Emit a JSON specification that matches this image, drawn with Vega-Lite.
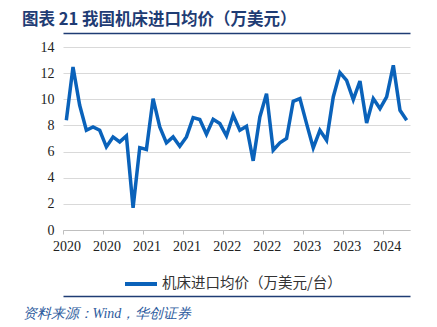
{
  "$schema": "https://vega.github.io/schema/vega-lite/v6.json",
  "width": 347,
  "height": 183,
  "autosize": {"type": "none"},
  "padding": {"left": 63, "top": 47, "right": 27, "bottom": 97},
  "background": "white",
  "title": {
    "text": "图表 21  我国机床进口均价（万美元）",
    "anchor": "start",
    "frame": "group",
    "dx": -41,
    "offset": 5,
    "font": "Noto Sans CJK SC",
    "fontSize": 16.5,
    "fontWeight": "bold",
    "color": "#1F3C74"
  },
  "config": {"view": {"stroke": null}},
  "data": {
    "values": [
      {"i": 1, "v": 8.4, "s": "机床进口均价（万美元/台）"},
      {"i": 2, "v": 12.47, "s": "机床进口均价（万美元/台）"},
      {"i": 3, "v": 9.54, "s": "机床进口均价（万美元/台）"},
      {"i": 4, "v": 7.63, "s": "机床进口均价（万美元/台）"},
      {"i": 5, "v": 7.89, "s": "机床进口均价（万美元/台）"},
      {"i": 6, "v": 7.63, "s": "机床进口均价（万美元/台）"},
      {"i": 7, "v": 6.36, "s": "机床进口均价（万美元/台）"},
      {"i": 8, "v": 7.12, "s": "机床进口均价（万美元/台）"},
      {"i": 9, "v": 6.74, "s": "机床进口均价（万美元/台）"},
      {"i": 10, "v": 7.2, "s": "机床进口均价（万美元/台）"},
      {"i": 11, "v": 1.7, "s": "机床进口均价（万美元/台）"},
      {"i": 12, "v": 6.3, "s": "机床进口均价（万美元/台）"},
      {"i": 13, "v": 6.16, "s": "机床进口均价（万美元/台）"},
      {"i": 14, "v": 10.05, "s": "机床进口均价（万美元/台）"},
      {"i": 15, "v": 7.89, "s": "机床进口均价（万美元/台）"},
      {"i": 16, "v": 6.67, "s": "机床进口均价（万美元/台）"},
      {"i": 17, "v": 7.12, "s": "机床进口均价（万美元/台）"},
      {"i": 18, "v": 6.41, "s": "机床进口均价（万美元/台）"},
      {"i": 19, "v": 7.12, "s": "机床进口均价（万美元/台）"},
      {"i": 20, "v": 8.6, "s": "机床进口均价（万美元/台）"},
      {"i": 21, "v": 8.45, "s": "机床进口均价（万美元/台）"},
      {"i": 22, "v": 7.33, "s": "机床进口均价（万美元/台）"},
      {"i": 23, "v": 8.47, "s": "机床进口均价（万美元/台）"},
      {"i": 24, "v": 8.14, "s": "机床进口均价（万美元/台）"},
      {"i": 25, "v": 7.2, "s": "机床进口均价（万美元/台）"},
      {"i": 26, "v": 8.78, "s": "机床进口均价（万美元/台）"},
      {"i": 27, "v": 7.63, "s": "机床进口均价（万美元/台）"},
      {"i": 28, "v": 7.94, "s": "机床进口均价（万美元/台）"},
      {"i": 29, "v": 5.29, "s": "机床进口均价（万美元/台）"},
      {"i": 30, "v": 8.65, "s": "机床进口均价（万美元/台）"},
      {"i": 31, "v": 10.43, "s": "机床进口均价（万美元/台）"},
      {"i": 32, "v": 6.1, "s": "机床进口均价（万美元/台）"},
      {"i": 33, "v": 6.67, "s": "机床进口均价（万美元/台）"},
      {"i": 34, "v": 7.0, "s": "机床进口均价（万美元/台）"},
      {"i": 35, "v": 9.85, "s": "机床进口均价（万美元/台）"},
      {"i": 36, "v": 10.05, "s": "机床进口均价（万美元/台）"},
      {"i": 37, "v": 8.14, "s": "机床进口均价（万美元/台）"},
      {"i": 38, "v": 6.28, "s": "机床进口均价（万美元/台）"},
      {"i": 39, "v": 7.63, "s": "机床进口均价（万美元/台）"},
      {"i": 40, "v": 6.87, "s": "机床进口均价（万美元/台）"},
      {"i": 41, "v": 10.18, "s": "机床进口均价（万美元/台）"},
      {"i": 42, "v": 12.04, "s": "机床进口均价（万美元/台）"},
      {"i": 43, "v": 11.45, "s": "机床进口均价（万美元/台）"},
      {"i": 44, "v": 9.97, "s": "机床进口均价（万美元/台）"},
      {"i": 45, "v": 11.4, "s": "机床进口均价（万美元/台）"},
      {"i": 46, "v": 8.19, "s": "机床进口均价（万美元/台）"},
      {"i": 47, "v": 10.05, "s": "机床进口均价（万美元/台）"},
      {"i": 48, "v": 9.29, "s": "机床进口均价（万美元/台）"},
      {"i": 49, "v": 10.18, "s": "机床进口均价（万美元/台）"},
      {"i": 50, "v": 12.6, "s": "机床进口均价（万美元/台）"},
      {"i": 51, "v": 9.16, "s": "机床进口均价（万美元/台）"},
      {"i": 52, "v": 8.4, "s": "机床进口均价（万美元/台）"}
    ]
  },
  "encoding": {
    "y": {
      "field": "v",
      "type": "quantitative",
      "scale": {"domain": [0, 14], "nice": false},
      "axis": {
        "values": [0, 2, 4, 6, 8, 10, 12, 14],
        "title": null,
        "domain": false,
        "ticks": false,
        "gridColor": "#d9d9d9",
        "gridWidth": 1,
        "labelFont": "Liberation Serif",
        "labelFontSize": 14,
        "labelColor": "#222222",
        "labelPadding": 9
      }
    }
  },
  "layer": [
    {
      "mark": {"type": "line", "strokeWidth": 3.5},
      "encoding": {
        "x": {
          "field": "i",
          "type": "quantitative",
          "scale": {"domain": [0.5, 52.5], "nice": false, "zero": false},
          "axis": {
            "values": [0.5, 6.5, 12.5, 18.5, 24.5, 30.5, 36.5, 42.5, 48.5],
            "labelExpr": "'' + (2020 + floor((datum.value - 0.5) / 12))",
            "grid": false,
            "title": null,
            "domainColor": "#bfbfbf",
            "tickColor": "#bfbfbf",
            "tickSize": 4,
            "labelFont": "Liberation Serif",
            "labelFontSize": 14,
            "labelColor": "#222222",
            "labelPadding": 5,
            "labelOffset": 3.5,
            "labelFlush": false,
            "labelOverlap": false
          }
        },
        "color": {
          "field": "s",
          "type": "nominal",
          "scale": {"range": ["#0A62BA"]},
          "legend": {
            "orient": "none",
            "legendX": 60,
            "legendY": 219,
            "title": null,
            "symbolType": "stroke",
            "symbolSize": 1024,
            "symbolStrokeWidth": 4,
            "labelFont": "Noto Sans CJK SC",
            "labelFontSize": 14.5,
            "labelColor": "#333333",
            "labelOffset": 3,
            "labelLimit": 0
          }
        }
      }
    },
    {
      "mark": {"type": "line", "opacity": 0},
      "encoding": {
        "x": {
          "field": "i",
          "type": "quantitative",
          "axis": {
            "orient": "top",
            "offset": 14,
            "domainColor": "#1F3C74",
            "domainWidth": 1.5,
            "ticks": false,
            "labels": false,
            "grid": false,
            "title": null
          }
        }
      }
    },
    {
      "mark": {"type": "line", "opacity": 0},
      "encoding": {
        "x": {
          "field": "i",
          "type": "quantitative",
          "axis": {
            "orient": "bottom",
            "offset": 66,
            "domainColor": "#1F3C74",
            "domainWidth": 1.5,
            "ticks": false,
            "labels": false,
            "grid": false,
            "title": "资料来源：Wind，华创证券",
            "titleAnchor": "start",
            "titleAlign": "left",
            "titleX": -41,
            "titleY": 21,
            "titleBaseline": "alphabetic",
            "titleFont": "Liberation Serif",
            "titleFontStyle": "italic",
            "titleFontWeight": "normal",
            "titleFontSize": 14,
            "titleColor": "#2E5C9E"
          }
        }
      }
    }
  ],
  "resolve": {"axis": {"x": "independent"}}
}
